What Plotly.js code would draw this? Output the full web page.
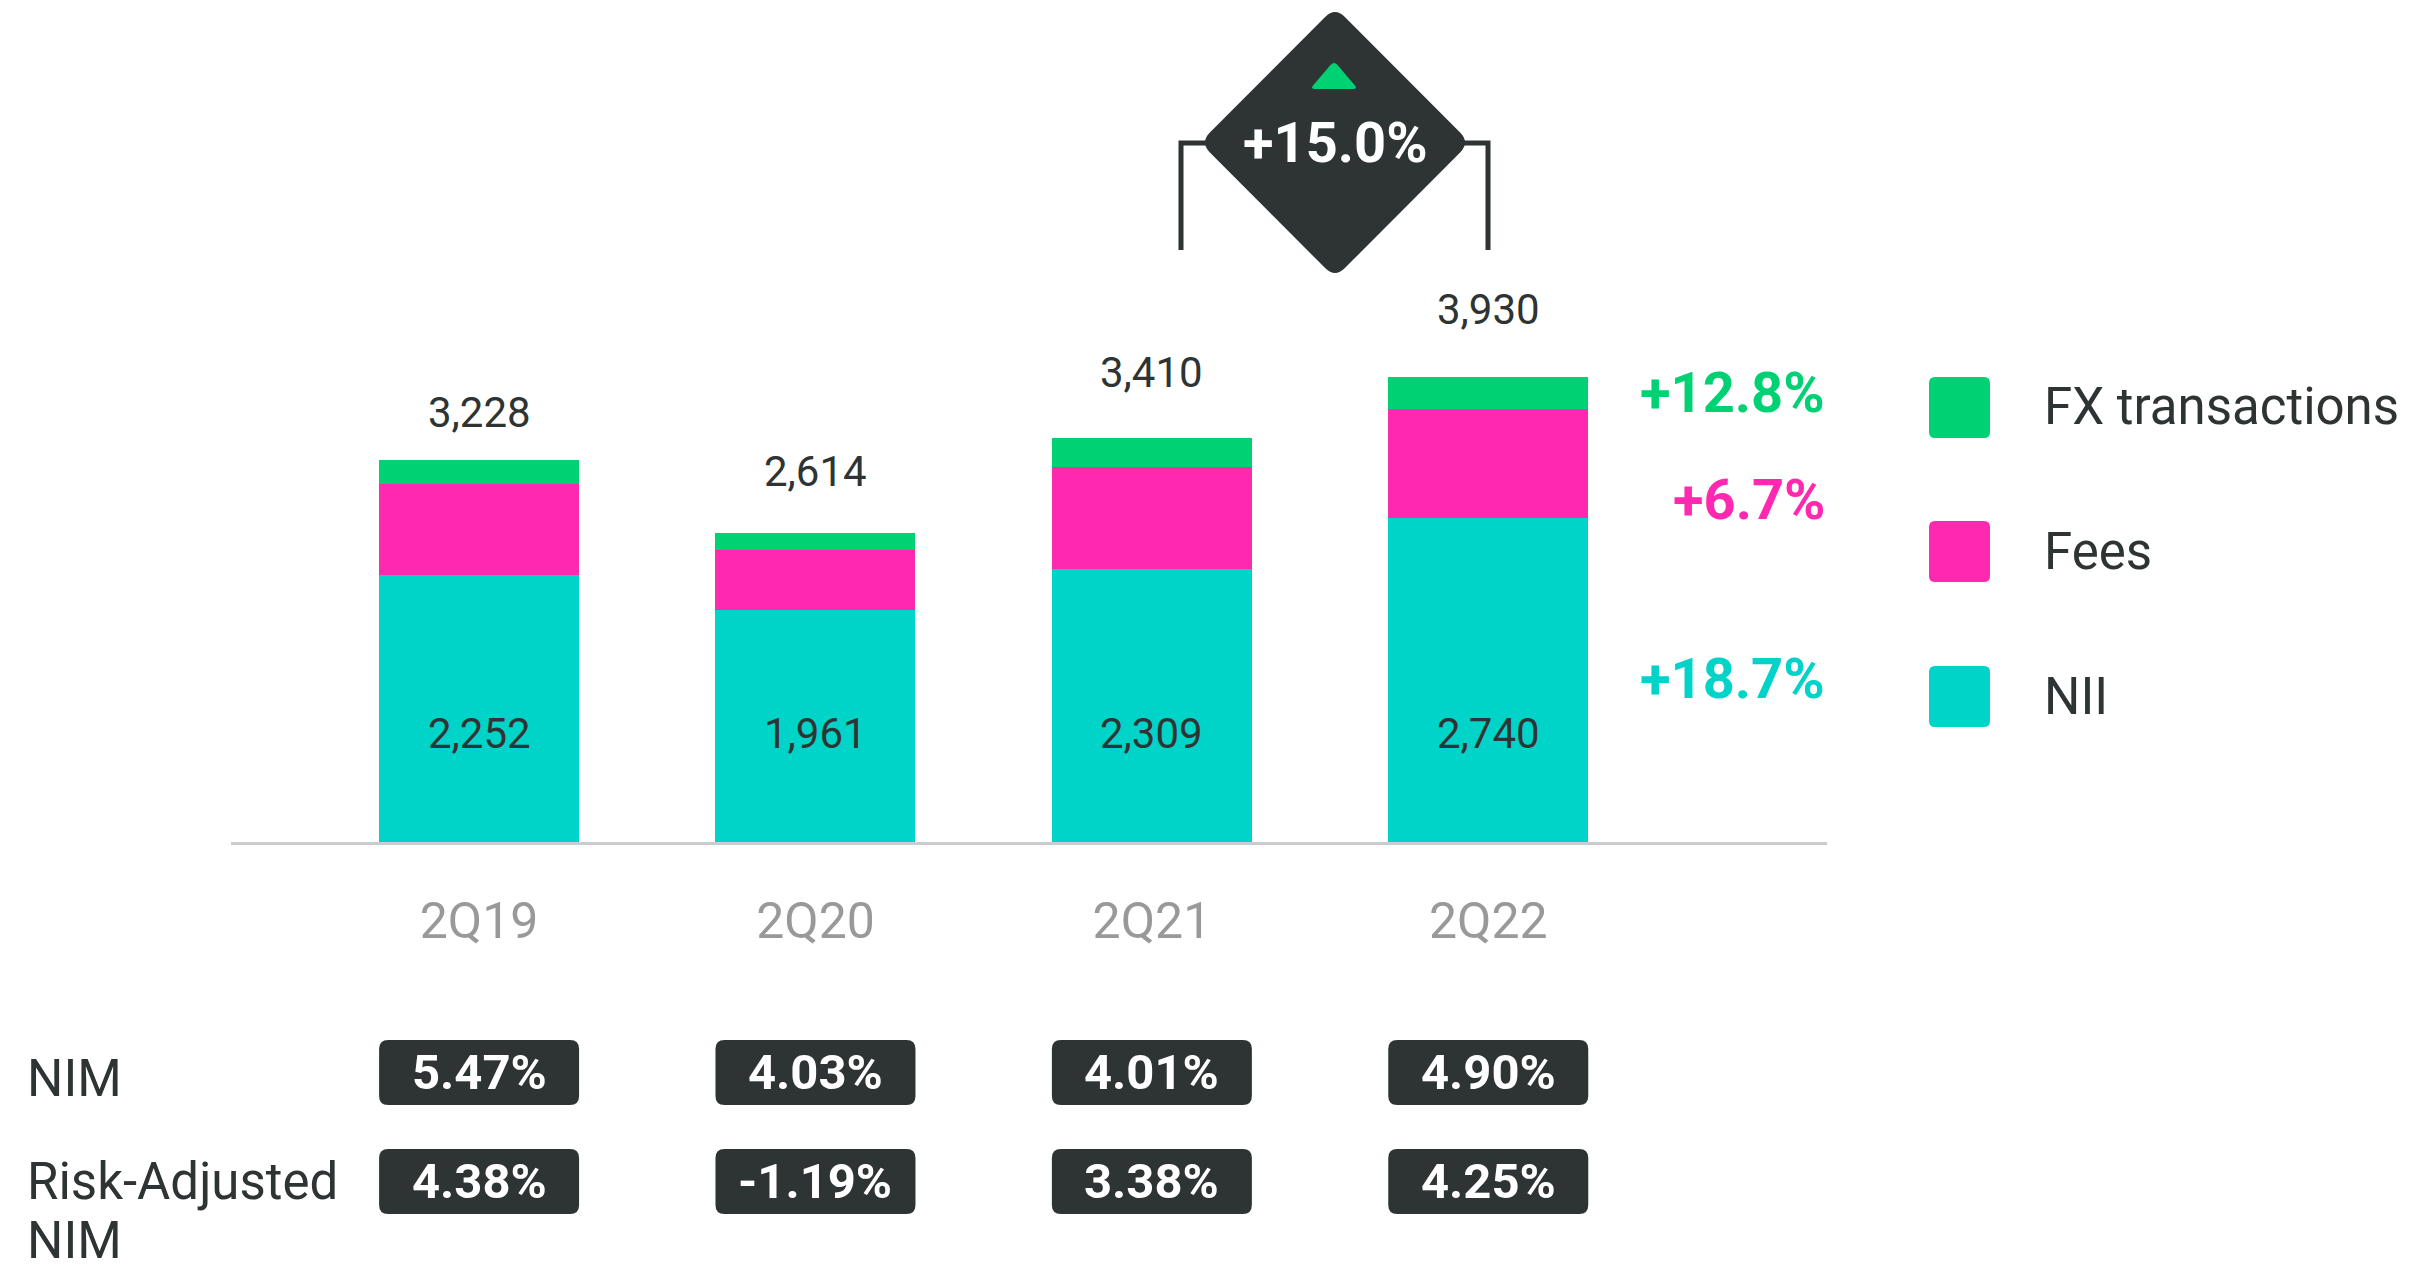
<!DOCTYPE html>
<html>
<head>
<meta charset="utf-8">
<script src="https://cdn.plot.ly/plotly-3.0.1.min.js"></script>
<style>html,body{margin:0;padding:0;background:#fff;}#chart{width:2414px;height:1270px;}</style>
</head>
<body>
<div id="chart"></div>
<script>
// ---------- data ----------
const categories = ['2Q19', '2Q20', '2Q21', '2Q22'];
const niiValues = [2252, 1961, 2309, 2740];
const feesValues = [771, 503, 860, 918];
const fxValues = [205, 150, 241, 272];
const totalValues = [3228, 2614, 3410, 3930];
const nimValues = ['5.47%', '4.03%', '4.01%', '4.90%'];
const riskAdjNimValues = ['4.38%', '-1.19%', '3.38%', '4.25%'];
const seriesNames = ['NII', 'Fees', 'FX transactions'];
const growthLabels = ['+18.7%', '+6.7%', '+12.8%']; // NII, Fees, FX
const totalGrowthLabel = '+15.0%';
const rowLabels = ['NIM', 'Risk-Adjusted', 'NIM'];

// ---------- style ----------
const C_NII = '#00D3C8', C_FEES = '#FF28B0', C_FX = '#00D173';
const DARK = '#2E3333', GREY = '#999999';
const FONT = 'Roboto, "Open Sans", sans-serif';
const W = 2414, H = 1270;
const L = 231, R = 1827, T = 0, B = 842;           // plot area in px
const XR = [-0.7375, 4.007], YMAX = 7115;
const BARW = 0.5945;
const totalShift = [47, 61, 66, 67];

const px = x => (x - L) / (R - L);               // px -> paper x
const py = y => (B - y) / (B - T);               // px -> paper y
const dxu = p => p * (XR[1] - XR[0]) / (R - L);    // px length -> x data units

function fmt(v) { return v.toLocaleString('en-US'); }

// rounded rectangle path: xs in x-data units, ys in paper, radius given in px
function roundRectX(xc, halfW, yTopPx, yBotPx, rpx) {
  const x0 = xc - halfW, x1 = xc + halfW, rx = dxu(rpx);
  const yt = py(yTopPx), yb = py(yBotPx), ry = rpx / (B - T);
  return `M ${x0 + rx},${yt} L ${x1 - rx},${yt} Q ${x1},${yt} ${x1},${yt - ry} ` +
         `L ${x1},${yb + ry} Q ${x1},${yb} ${x1 - rx},${yb} L ${x0 + rx},${yb} ` +
         `Q ${x0},${yb} ${x0},${yb + ry} L ${x0},${yt - ry} Q ${x0},${yt} ${x0 + rx},${yt} Z`;
}
// rounded polygon in px -> paper path
function roundPoly(pts, d) {
  let s = '';
  const n = pts.length;
  for (let i = 0; i < n; i++) {
    const P = pts[(i - 1 + n) % n], V = pts[i], N = pts[(i + 1) % n];
    const lp = Math.hypot(P[0] - V[0], P[1] - V[1]), ln = Math.hypot(N[0] - V[0], N[1] - V[1]);
    const A = [V[0] + (P[0] - V[0]) * d / lp, V[1] + (P[1] - V[1]) * d / lp];
    const Bp = [V[0] + (N[0] - V[0]) * d / ln, V[1] + (N[1] - V[1]) * d / ln];
    s += (i === 0 ? 'M ' : 'L ') + px(A[0]) + ',' + py(A[1]) + ' Q ' + px(V[0]) + ',' + py(V[1]) + ' ' + px(Bp[0]) + ',' + py(Bp[1]) + ' ';
  }
  return s + 'Z';
}
function roundRectPx(x0, y0, x1, y1, r) {
  return roundPoly([[x0, y0], [x1, y0], [x1, y1], [x0, y1]], r);
}

// ---------- traces ----------
const xIdx = categories.map((c, i) => i);
const mk = (name, vals, color) => ({
  type: 'bar', name: name, x: categories, y: vals, width: BARW,
  marker: { color: color, line: { width: 0 } }, hoverinfo: 'name+y', showlegend: false
});
const traces = [
  mk(seriesNames[0], niiValues, C_NII),
  mk(seriesNames[1], feesValues, C_FEES),
  mk(seriesNames[2], fxValues, C_FX)
];

// ---------- annotations ----------
const annotations = [];
categories.forEach((c, i) => {
  annotations.push({ x: c, y: totalValues[i], xref: 'x', yref: 'y', text: fmt(totalValues[i]),
    showarrow: false, yanchor: 'middle', yshift: totalShift[i], font: { family: FONT, size: 42, color: DARK } });
  annotations.push({ x: c, y: 0, xref: 'x', yref: 'y', text: fmt(niiValues[i]),
    showarrow: false, yanchor: 'middle', yshift: 109, font: { family: FONT, size: 42, color: DARK } });
  annotations.push({ x: c, y: py(1072.5), xref: 'x', yref: 'paper', text: nimValues[i],
    showarrow: false, yanchor: 'middle', font: { family: FONT, size: 49, color: '#fff', weight: 700 } });
  annotations.push({ x: c, y: py(1181.5), xref: 'x', yref: 'paper', text: riskAdjNimValues[i],
    showarrow: false, yanchor: 'middle', font: { family: FONT, size: 49, color: '#fff', weight: 700 } });
});
// growth labels
const growthY = [679, 500, 393];
const growthC = [C_NII, C_FEES, C_FX];
growthLabels.forEach((g, k) => {
  annotations.push({ x: px(1827), y: py(growthY[k]), xref: 'paper', yref: 'paper', text: g, showarrow: false,
    xanchor: 'right', yanchor: 'middle', font: { family: FONT, size: 56, color: growthC[k], weight: 700 } });
});
// total growth in diamond
annotations.push({ x: px(1335), y: py(143), xref: 'paper', yref: 'paper', text: totalGrowthLabel, showarrow: false,
  xanchor: 'center', yanchor: 'middle', font: { family: FONT, size: 56, color: '#fff', weight: 700 } });
// legend
const legY = [407, 551, 696];
const legItems = [seriesNames[2], seriesNames[1], seriesNames[0]];
const legC = [C_FX, C_FEES, C_NII];
legItems.forEach((t, k) => {
  annotations.push({ x: px(2042), y: py(legY[k]), xref: 'paper', yref: 'paper', text: t, showarrow: false,
    xanchor: 'left', yanchor: 'middle', font: { family: FONT, size: 51, color: DARK } });
});
// row labels
annotations.push({ x: px(26), y: py(1078), xref: 'paper', yref: 'paper', text: rowLabels[0], showarrow: false,
  xanchor: 'left', yanchor: 'middle', borderpad: 0, font: { family: FONT, size: 51, color: DARK } });
annotations.push({ x: px(26), y: py(1181), xref: 'paper', yref: 'paper', text: rowLabels[1], showarrow: false,
  xanchor: 'left', yanchor: 'middle', borderpad: 0, font: { family: FONT, size: 51, color: DARK } });
annotations.push({ x: px(26), y: py(1240), xref: 'paper', yref: 'paper', text: rowLabels[2], showarrow: false,
  xanchor: 'left', yanchor: 'middle', borderpad: 0, font: { family: FONT, size: 51, color: DARK } });

// ---------- shapes ----------
const shapes = [];
xIdx.forEach(i => {
  shapes.push({ type: 'path', xref: 'x', yref: 'paper', path: roundRectX(i, BARW / 2, 1040, 1105, 9),
    fillcolor: DARK, line: { width: 0 } });
  shapes.push({ type: 'path', xref: 'x', yref: 'paper', path: roundRectX(i, BARW / 2, 1149, 1214, 9),
    fillcolor: DARK, line: { width: 0 } });
});
// legend squares
legY.forEach((y, k) => {
  shapes.push({ type: 'path', xref: 'paper', yref: 'paper', path: roundRectPx(1929, y - 30, 1990, y + 31, 6),
    fillcolor: legC[k], line: { width: 0 } });
});
// bracket
shapes.push({ type: 'path', xref: 'paper', yref: 'paper',
  path: `M ${px(1181)},${py(250)} L ${px(1181)},${py(143)} L ${px(1215)},${py(143)}`,
  line: { color: DARK, width: 5 } });
shapes.push({ type: 'path', xref: 'paper', yref: 'paper',
  path: `M ${px(1455)},${py(143)} L ${px(1488)},${py(143)} L ${px(1488)},${py(250)}`,
  line: { color: DARK, width: 5 } });
// diamond
shapes.push({ type: 'path', xref: 'paper', yref: 'paper',
  path: roundPoly([[1335, 7], [1470, 142.5], [1335, 278], [1200, 142.5]], 14),
  fillcolor: DARK, line: { width: 0 } });
// green triangle
shapes.push({ type: 'path', xref: 'paper', yref: 'paper',
  path: roundPoly([[1334, 61], [1358, 89], [1310, 89]], 5),
  fillcolor: C_FX, line: { width: 0 } });

const layout = {
  width: W, height: H, autosize: false,
  margin: { l: L, r: W - R, t: T, b: H - B, pad: 0 },
  paper_bgcolor: '#fff', plot_bgcolor: '#fff',
  barmode: 'stack', showlegend: false,
  font: { family: FONT, color: DARK },
  xaxis: { type: 'category', range: XR, showgrid: false, zeroline: false, showline: true,
    linecolor: '#CCCCCC', linewidth: 3, ticks: '', ticklabelstandoff: 33,
    tickfont: { family: FONT, size: 50, color: GREY }, fixedrange: true },
  yaxis: { range: [0, YMAX], visible: false, showgrid: false, zeroline: false, fixedrange: true },
  annotations: annotations, shapes: shapes
};

Plotly.newPlot('chart', traces, layout, { displayModeBar: false, staticPlot: true });
</script>
</body>
</html>
